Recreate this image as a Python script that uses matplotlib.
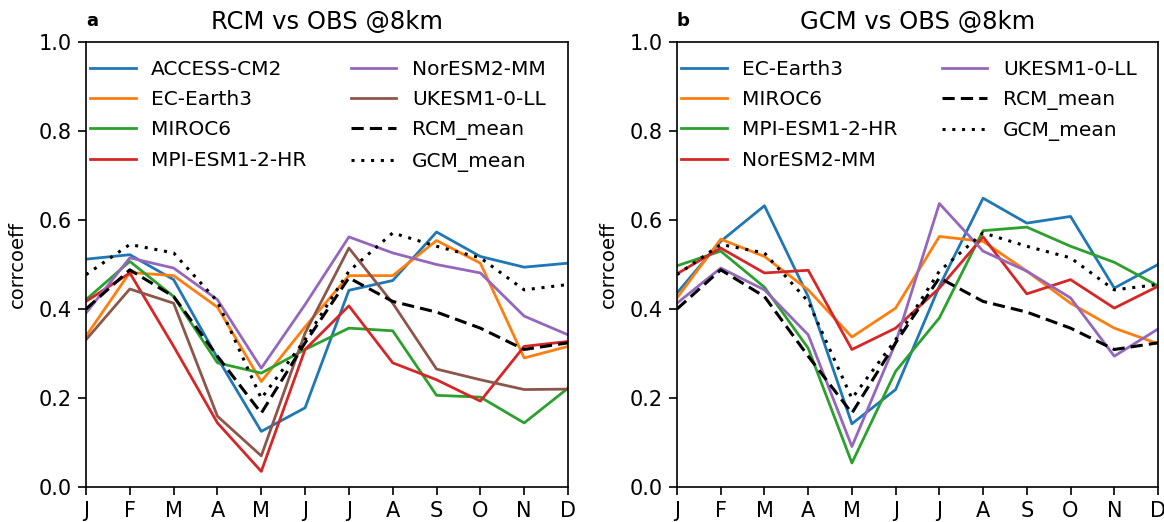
import matplotlib
matplotlib.use("Agg")
import matplotlib.pyplot as plt
import numpy as np

months = ["J", "F", "M", "A", "M", "J", "J", "A", "S", "O", "N", "D"]

# Panel a: RCM vs OBS
rcm_access = [0.512, 0.522, 0.466, 0.290, 0.125, 0.178, 0.442, 0.464, 0.573, 0.518, 0.494, 0.503]
rcm_ecearth = [0.339, 0.482, 0.475, 0.404, 0.237, 0.360, 0.475, 0.475, 0.554, 0.503, 0.290, 0.316]
rcm_miroc = [0.421, 0.507, 0.428, 0.279, 0.256, 0.309, 0.357, 0.351, 0.206, 0.202, 0.144, 0.222]
rcm_mpi = [0.417, 0.481, 0.316, 0.144, 0.035, 0.309, 0.407, 0.279, 0.241, 0.193, 0.316, 0.327]
rcm_noresm = [0.391, 0.515, 0.492, 0.421, 0.267, 0.410, 0.562, 0.526, 0.500, 0.481, 0.384, 0.342]
rcm_ukesm = [0.331, 0.445, 0.413, 0.159, 0.070, 0.346, 0.537, 0.413, 0.265, 0.241, 0.219, 0.220]

rcm_mean = [0.400, 0.488, 0.428, 0.294, 0.166, 0.324, 0.470, 0.417, 0.393, 0.357, 0.309, 0.324]
gcm_mean = [0.477, 0.545, 0.526, 0.417, 0.199, 0.331, 0.485, 0.571, 0.541, 0.515, 0.443, 0.455]

# Panel b: GCM vs OBS
gcm_ecearth = [0.436, 0.552, 0.632, 0.428, 0.142, 0.219, 0.451, 0.649, 0.593, 0.608, 0.447, 0.500]
gcm_miroc = [0.425, 0.557, 0.518, 0.443, 0.337, 0.402, 0.563, 0.552, 0.485, 0.413, 0.357, 0.322]
gcm_mpi = [0.497, 0.530, 0.449, 0.312, 0.054, 0.260, 0.380, 0.576, 0.584, 0.541, 0.505, 0.452]
gcm_noresm = [0.479, 0.537, 0.481, 0.487, 0.309, 0.357, 0.447, 0.562, 0.434, 0.466, 0.402, 0.451]
gcm_ukesm = [0.413, 0.492, 0.443, 0.342, 0.091, 0.324, 0.637, 0.530, 0.485, 0.425, 0.294, 0.355]

panel_a = [("ACCESS-CM2", rcm_access), ("EC-Earth3", rcm_ecearth), ("MIROC6", rcm_miroc),
           ("MPI-ESM1-2-HR", rcm_mpi), ("NorESM2-MM", rcm_noresm), ("UKESM1-0-LL", rcm_ukesm)]
panel_b = [("EC-Earth3", gcm_ecearth), ("MIROC6", gcm_miroc), ("MPI-ESM1-2-HR", gcm_mpi),
           ("NorESM2-MM", gcm_noresm), ("UKESM1-0-LL", gcm_ukesm)]

colors = plt.rcParams["axes.prop_cycle"].by_key()["color"]

W, H = 1164, 522
fig = plt.figure(figsize=(W / 100, H / 100), dpi=100)

def add_ax(l, r, t, b):
    return fig.add_axes([l / W, 1 - b / H, (r - l) / W, (b - t) / H])

axa = add_ax(86, 568, 42, 487)
axb = add_ax(677, 1158, 42, 487)

x = np.arange(12)
for ax, series, title, letter in [(axa, panel_a, "RCM vs OBS @8km", "a"),
                                   (axb, panel_b, "GCM vs OBS @8km", "b")]:
    for i, (name, vals) in enumerate(series):
        ax.plot(x, vals, color=colors[i], lw=2, label=name)
    ax.plot(x, rcm_mean, color="black", lw=2.2, ls=(0, (4, 2)), label="RCM_mean")
    ax.plot(x, gcm_mean, color="black", lw=2.2, ls=(0, (1, 2.2)), label="GCM_mean")
    ax.set_xlim(0, 11)
    ax.set_ylim(0, 1.0)
    ax.set_xticks(x)
    ax.set_xticklabels(months)
    ax.set_yticks([0.0, 0.2, 0.4, 0.6, 0.8, 1.0])
    ax.tick_params(labelsize=15, length=6, width=1.2, pad=4)
    for s in ax.spines.values():
        s.set_linewidth(1.2)
    ax.set_ylabel("corrcoeff", fontsize=14)
    ax.set_title(title, fontsize=17.5, pad=9.5)
    ax.text(0.0, 1.036, letter, transform=ax.transAxes, fontsize=13,
            fontweight="bold", ha="left", va="baseline")
    ax.legend(loc="upper left", bbox_to_anchor=(-0.008, 0.978), borderaxespad=0,
              ncol=2, frameon=False, fontsize=14.5,
              handlelength=2.25, handletextpad=0.78, columnspacing=2.2,
              labelspacing=0.56)

axa.yaxis.set_label_coords(-0.122, 0.5)
axb.yaxis.set_label_coords(-0.122, 0.5)

fig.savefig("out.png", dpi=100)
